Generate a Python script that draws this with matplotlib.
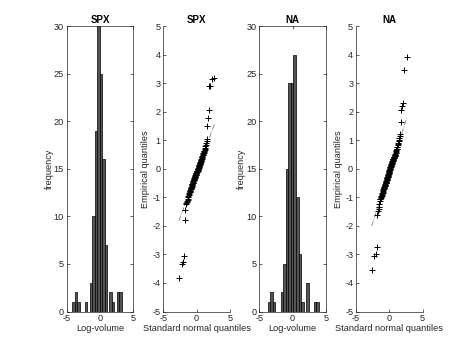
import matplotlib
matplotlib.use("Agg")
import matplotlib.pyplot as plt
import numpy as np
from statistics import NormalDist

plt.rcParams["font.family"] = ["Liberation Sans", "DejaVu Sans"]
plt.rcParams["axes.unicode_minus"] = False

# Histogram bins (centres) and counts
spx_bin_centers = [-3.95, -3.58, -3.21, -2.84, -2.47, -2.10, -1.73, -1.36, -0.99, -0.62,
                   -0.25, 0.12, 0.49, 0.86, 1.23, 1.60, 1.97, 2.34, 2.71, 3.08]
spx_counts = [1, 2, 1, 0, 0, 1, 0, 3, 10, 19, 30, 25, 16, 7, 0, 2, 1, 0, 2, 2]

na_bin_centers = [-3.55, -3.165, -2.78, -2.395, -2.01, -1.625, -1.24, -0.855, -0.47, -0.085,
                  0.30, 0.685, 1.07, 1.455, 1.84, 2.225, 2.61, 2.995, 3.38, 3.765]
na_counts = [1, 2, 1, 0, 0, 2, 5, 15, 24, 24, 27, 12, 6, 1, 0, 3, 0, 0, 1, 1]

# Sorted log-volumes (empirical quantiles of the QQ panels)
spx_values = [
    -3.82, -3.32, -3.26, -3.05, -1.80,
    -1.45, -1.24, -1.19,
    -1.16, -1.12, -1.08, -1.04, -0.99, -0.95, -0.91, -0.88, -0.85, -0.82,
    -0.80, -0.78, -0.76, -0.74, -0.72, -0.70, -0.68, -0.66, -0.64, -0.62,
    -0.60, -0.58, -0.56, -0.54, -0.52, -0.50, -0.48, -0.46, -0.44,
    -0.43, -0.42, -0.40, -0.39, -0.38, -0.36, -0.35, -0.34, -0.32, -0.31,
    -0.30, -0.28, -0.27, -0.26, -0.24, -0.23, -0.22, -0.20, -0.19, -0.18,
    -0.16, -0.15, -0.14, -0.12, -0.11, -0.10, -0.09, -0.08, -0.07, -0.07,
    -0.06, -0.04, -0.03, -0.02, 0.00, 0.01, 0.03, 0.04, 0.06, 0.07,
    0.09, 0.10, 0.12, 0.13, 0.15, 0.16, 0.18, 0.19, 0.21, 0.22,
    0.24, 0.25, 0.27, 0.28, 0.30,
    0.31, 0.33, 0.35, 0.38, 0.40, 0.42, 0.45, 0.47, 0.50, 0.52,
    0.54, 0.57, 0.59, 0.62, 0.64, 0.67,
    0.70, 0.74, 0.79, 0.85, 0.91, 0.97, 1.03,
    1.50, 1.80, 2.05, 2.90, 2.92, 3.15, 3.20,
]
na_values = [
    -3.55, -3.05, -2.98, -2.75,
    -1.60, -1.48,
    -1.40, -1.32, -1.22, -1.14, -1.07,
    -1.04, -1.01, -0.99, -0.96, -0.94, -0.91, -0.88, -0.86, -0.83, -0.80,
    -0.78, -0.75, -0.72, -0.70, -0.67,
    -0.66, -0.64, -0.63, -0.61, -0.60, -0.58, -0.56, -0.55, -0.53, -0.51,
    -0.50, -0.48, -0.46, -0.45, -0.43, -0.41, -0.40, -0.38, -0.36, -0.35,
    -0.33, -0.31, -0.30, -0.28,
    -0.27, -0.25, -0.24, -0.22, -0.20, -0.19, -0.17, -0.15, -0.14, -0.12,
    -0.10, -0.09, -0.07, -0.05, -0.04, -0.02, 0.00, 0.01, 0.03, 0.05,
    0.06, 0.08, 0.09, 0.10,
    0.12, 0.13, 0.15, 0.16, 0.17, 0.19, 0.20, 0.22, 0.23, 0.24,
    0.26, 0.27, 0.29, 0.30, 0.31, 0.33, 0.34, 0.36, 0.37, 0.38,
    0.40, 0.41, 0.43, 0.44, 0.45, 0.47, 0.48,
    0.50, 0.53, 0.56, 0.59, 0.62, 0.65, 0.68, 0.71, 0.75, 0.78, 0.82, 0.86,
    0.90, 0.96, 1.02, 1.09, 1.15, 1.22,
    1.65, 2.08, 2.20, 2.32, 3.47, 3.92,
]

TXT = "#262626"
FS = 6.6

fig = plt.figure(figsize=(4.67, 3.5), dpi=100)
W, H = 467.0, 350.0
lefts = [66.7, 163.3, 259.3, 356.0]
ax_w = 66.7 / W


def style(ax, box):
    for side in ["left", "bottom", "right", "top"]:
        ax.spines[side].set_color(TXT)
        ax.spines[side].set_linewidth(0.5)
        if not box and side in ("right", "top"):
            ax.spines[side].set_visible(False)
    ax.tick_params(direction="in", length=2.3, width=0.5, colors=TXT,
                   labelsize=FS, top=box, right=box)
    ax.tick_params(axis="x", pad=1.5)
    ax.tick_params(axis="y", pad=2.0)


def hist_panel(ax, centers, counts, title):
    centers = np.asarray(centers)
    w = np.mean(np.diff(centers))
    ax.bar(centers, counts, width=w, color="#555555", edgecolor="black",
           linewidth=0.5)
    ax.set_xlim(-5, 5)
    ax.set_ylim(0, 30)
    ax.set_xticks([-5, 0, 5])
    ax.set_yticks(range(0, 31, 5))
    style(ax, True)
    ax.set_xlabel("Log-volume", fontsize=FS, color=TXT, labelpad=1)
    ax.set_ylabel("frequency", fontsize=FS, color=TXT, labelpad=0)
    ax.set_title(title, fontsize=7, fontweight="bold", pad=2)


def qq_panel(ax, values, title):
    y = np.sort(np.asarray(values))
    n = len(y)
    x = np.array([NormalDist().inv_cdf((i - 0.5) / n) for i in range(1, n + 1)])
    q1x, q3x = np.percentile(x, [25, 75], method="hazen")
    q1y, q3y = np.percentile(y, [25, 75], method="hazen")
    slope = (q3y - q1y) / (q3x - q1x)
    cx, cy = (q1x + q3x) / 2, (q1y + q3y) / 2
    mx = np.array([x.min(), x.max()])
    my = cy + slope * (mx - cx)
    ax.plot(mx, my, linestyle="-.", color="#808080", linewidth=0.6)
    ax.plot([q1x, q3x], [q1y, q3y], color="#808080", linewidth=0.6)
    ax.plot(x, y, "+", color="black", markersize=4.8, markeredgewidth=0.7)
    ax.set_xlim(-5, 5)
    ax.set_ylim(-5, 5)
    ax.set_xticks([-5, 0, 5])
    ax.set_yticks(range(-5, 6))
    style(ax, False)
    ax.set_xlabel("Standard normal quantiles", fontsize=FS, color=TXT, labelpad=1)
    ax.set_ylabel("Empirical quantiles", fontsize=FS, color=TXT, labelpad=1.5)
    ax.set_title(title, fontsize=7, fontweight="bold", pad=2)


axes = [fig.add_axes([l / W, 0.11, ax_w, 0.815]) for l in lefts]
hist_panel(axes[0], spx_bin_centers, spx_counts, "SPX")
qq_panel(axes[1], spx_values, "SPX")
hist_panel(axes[2], na_bin_centers, na_counts, "NA")
qq_panel(axes[3], na_values, "NA")

fig.savefig("out.png", dpi=100)
